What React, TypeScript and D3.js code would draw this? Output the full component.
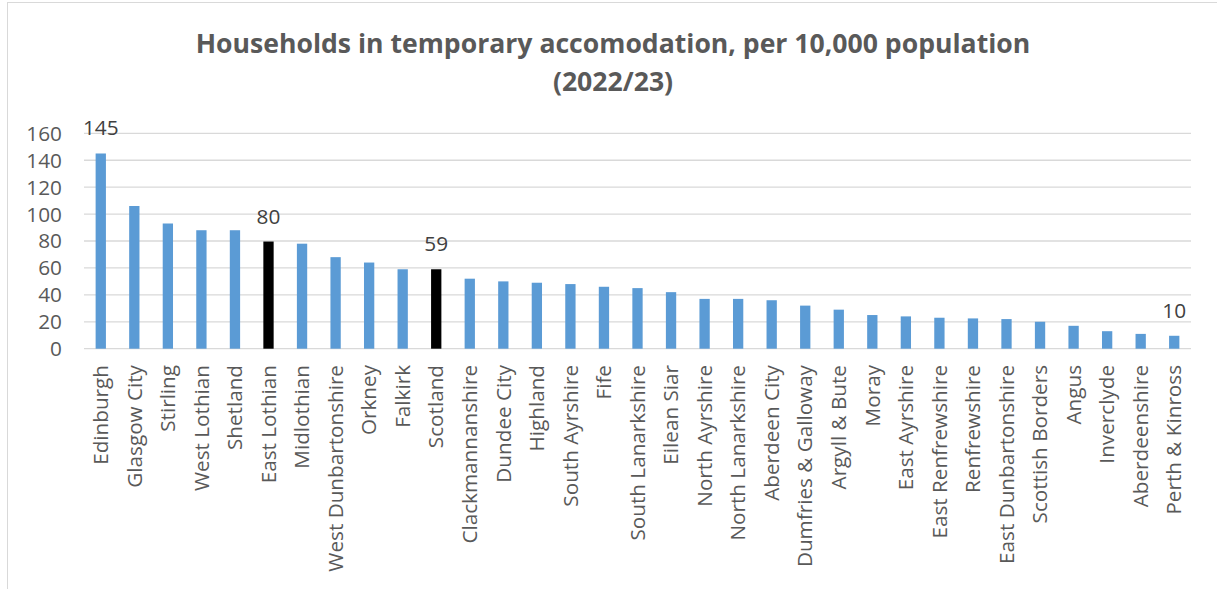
import React from "react";
import * as d3 from "d3";

const categories = [
  "Edinburgh", "Glasgow City", "Stirling", "West Lothian", "Shetland", "East Lothian",
  "Midlothian", "West Dunbartonshire", "Orkney", "Falkirk", "Scotland", "Clackmannanshire",
  "Dundee City", "Highland", "South Ayrshire", "Fife", "South Lanarkshire", "Eilean Siar",
  "North Ayrshire", "North Lanarkshire", "Aberdeen City", "Dumfries & Galloway", "Argyll & Bute",
  "Moray", "East Ayrshire", "East Renfrewshire", "Renfrewshire", "East Dunbartonshire",
  "Scottish Borders", "Angus", "Inverclyde", "Aberdeenshire", "Perth & Kinross",
];
const values = [
  145, 106, 93, 88, 88, 79.6,
  78, 68, 64, 59, 59, 52,
  50, 49, 48, 46, 45, 42,
  37, 37, 36, 32, 29,
  25, 24, 23, 22.5, 22,
  20, 17, 13, 11, 9.6,
];
const highlighted = ["East Lothian", "Scotland"];
const labelled = ["Edinburgh", "East Lothian", "Scotland", "Perth & Kinross"];
const yTicks = [0, 20, 40, 60, 80, 100, 120, 140, 160];
const titleLines = ["Households in temporary accomodation, per 10,000 population", "(2022/23)"];

const W = 1217;
const H = 589;
const FONT = "'Open Sans', sans-serif";

export default function App() {
  const x = d3.scaleBand<string>().domain(categories).range([84, 1191]).paddingInner(0).paddingOuter(0);
  const y = d3.scaleLinear().domain([0, 160]).range([348.7, 133.3]);
  const barW = 10.3;
  const fmt = d3.format(".0f");
  return (
    <svg width={W} height={H} style={{ position: "absolute", left: 0, top: 0, background: "#fff" }}>
      <rect x={7.5} y={2.5} width={W + 20} height={H + 20} fill="#fff" stroke="#d9d9d9" strokeWidth={1} />
      {titleLines.map((t, i) => (
        <text key={t} x={613} y={53 + i * 38} textAnchor="middle" fontFamily={FONT} fontWeight={700}
          fontSize={26.6} fill="#595959">{t}</text>
      ))}
      {yTicks.map((t) => (
        <g key={t}>
          <line x1={84} x2={1191} y1={y(t)} y2={y(t)} stroke="#d9d9d9" strokeWidth={1.3} />
          <text x={62} y={y(t)} dy="0.36em" textAnchor="end" fontFamily={FONT} fontSize={20.8} fill="#595959">{t}</text>
        </g>
      ))}
      {categories.map((c, i) => {
        const cx = (x(c) as number) + x.bandwidth() / 2;
        const v = values[i];
        return (
          <g key={c}>
            <rect x={cx - barW / 2} y={y(v)} width={barW} height={y(0) - y(v)}
              fill={highlighted.includes(c) ? "#000000" : "#5B9BD5"} />
            {labelled.includes(c) && (
              <text x={cx} y={y(v) - 18} textAnchor="middle" fontFamily={FONT} fontSize={20.8} fill="#404040">{fmt(v)}</text>
            )}
            <text transform={`translate(${cx},365) rotate(-90)`} dy="0.35em" textAnchor="end"
              fontFamily={FONT} fontSize={20.7} fill="#595959">{c}</text>
          </g>
        );
      })}
    </svg>
  );
}
